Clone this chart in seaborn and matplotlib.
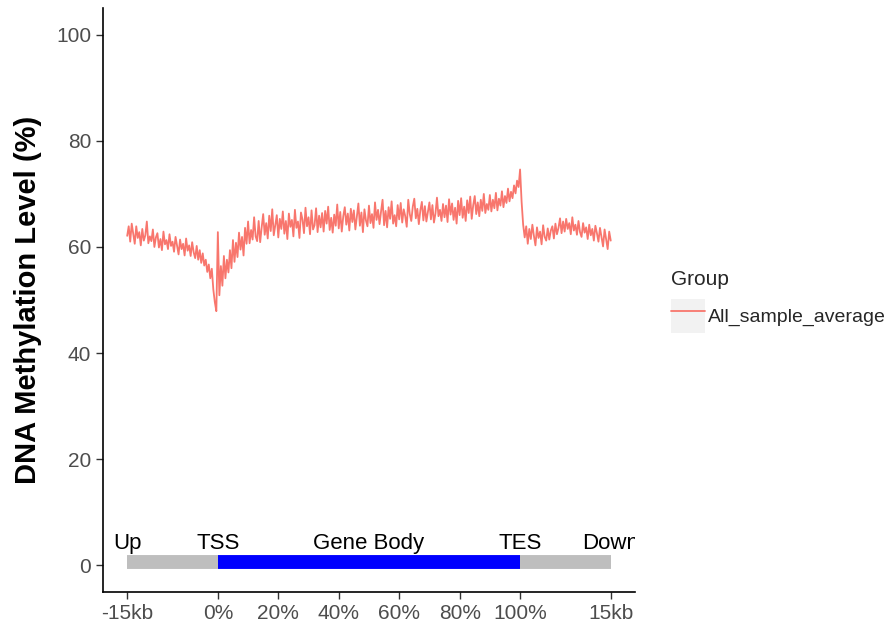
import numpy as np
import pandas as pd
import matplotlib
matplotlib.use("Agg")
import matplotlib.pyplot as plt
import seaborn as sns
from matplotlib.patches import Patch
from matplotlib.legend_handler import HandlerTuple

# methylation profile (upstream / gene body / downstream)
upstream = [62.1, 63.9, 61.0, 64.4, 62.5, 60.6, 63.9, 61.7, 62.8, 60.3,
            63.4, 61.2, 62.2, 64.8, 60.7, 62.0, 61.1, 63.3, 60.0, 61.8,
            62.6, 59.9, 61.5, 59.4, 62.9, 60.5, 61.3, 59.6, 62.4, 60.2,
            61.0, 59.1, 61.9, 60.2, 58.6, 61.4, 59.6, 60.6, 58.4, 61.6,
            59.3, 60.3, 58.3, 60.9, 59.0, 57.9, 60.2, 57.6, 59.4, 57.0,
            58.8, 56.5, 57.6, 55.3, 56.7, 54.1, 55.9, 52.0, 49.6, 47.9]
gene_body = [62.8, 50.9, 56.4, 52.7, 58.3, 54.1, 57.6, 55.2, 59.4, 56.0,
             61.3, 57.2, 60.8, 58.1, 62.7, 59.5, 61.9, 58.4, 63.6, 60.6,
             64.8, 60.7, 63.2, 61.4, 65.6, 62.0, 61.1, 64.9, 60.9, 63.7,
             66.2, 62.3, 64.5, 61.6, 65.9, 63.0, 67.1, 62.2, 64.1, 66.0,
             61.8, 65.3, 63.4, 66.7, 62.5, 64.9, 61.5, 66.3, 63.8, 65.1,
             62.0, 67.0, 63.6, 64.8, 61.7, 66.5, 65.2, 62.6, 67.4, 63.9,
             65.6, 62.4, 66.9, 63.3, 64.1, 67.3, 62.8, 65.9, 63.7, 66.4,
             62.9, 66.8, 64.4, 67.6, 63.2, 65.5, 62.7, 66.1, 64.0, 68.0,
             63.5, 66.6, 62.9, 65.8, 67.5, 64.2, 66.3, 63.1, 67.2, 64.7,
             66.9, 63.3, 65.7, 68.2, 64.0, 66.5, 62.8, 67.1, 65.0, 63.9,
             67.8, 64.5, 66.2, 63.6, 68.4, 65.1, 67.0, 64.3, 66.7, 68.9,
             64.1, 66.8, 63.7, 67.5, 65.3, 68.6, 64.4, 66.0, 63.9, 67.9,
             65.2, 68.3, 64.6, 67.1, 65.8, 63.8, 68.9, 66.2, 64.9, 67.6,
             69.1, 65.4, 67.2, 64.3, 66.9, 68.5, 65.0, 67.7, 64.8, 66.6,
             68.4, 65.2, 67.9, 64.6, 66.3, 69.3, 65.8, 67.0, 64.9, 68.1,
             65.6, 67.8, 64.7, 69.0, 66.1, 68.2, 65.1, 67.4, 64.4, 68.7,
             66.0, 69.2, 65.5, 67.6, 64.9, 68.8, 66.4, 69.5, 65.3, 67.9,
             69.6, 66.2, 68.4, 65.8, 68.9, 66.8, 70.0, 66.4, 68.1, 67.0,
             69.8, 66.7, 68.9, 67.3, 70.2, 66.9, 69.1, 67.8, 70.5, 67.5,
             69.6, 68.3, 71.0, 68.6, 70.4, 69.2, 71.6, 70.1, 72.5, 71.3]
downstream = [74.6, 68.5, 64.2, 61.8, 63.9, 60.6, 63.4, 61.5, 64.2, 62.1,
              60.3, 63.7, 61.7, 62.9, 60.5, 64.1, 61.9, 61.2, 63.5, 61.4,
              63.1, 63.9, 61.6, 64.4, 62.4, 63.6, 65.4, 62.6, 64.8, 62.9,
              65.3, 63.4, 64.5, 62.4, 65.6, 63.1, 64.2, 62.3, 64.9, 62.8,
              61.9, 64.5, 62.7, 63.7, 61.5, 64.2, 62.2, 63.4, 61.2, 64.0,
              62.6, 61.0, 63.6, 61.8, 60.1, 63.3, 61.4, 59.6, 62.9, 61.2]

group_name = "All_sample_average"

# gene model track
region_start = [-30, 0, 100]
region_end = [0, 100, 130]
region_color = ["#BEBEBE", "#0000FF", "#BEBEBE"]
track_labels = ["Up", "TSS", "Gene Body", "TES", "Down"]
track_label_pos = [-30, 0, 50, 100, 130]

tick_pos = [-30, 0, 20, 40, 60, 80, 100, 130]
tick_labels = ["-15kb", "0%", "20%", "40%", "60%", "80%", "100%", "15kb"]

# positions of each bin along the meta-gene
pos = np.concatenate([
    np.linspace(-30, 0, len(upstream), endpoint=False),
    np.linspace(0, 100, len(gene_body), endpoint=False),
    np.linspace(100, 130, len(downstream)),
])
df = pd.DataFrame({"pos": pos,
                   "value": upstream + gene_body + downstream,
                   "Group": group_name})

sns.set_style("white")
plt.rcParams["font.family"] = ["Liberation Sans", "DejaVu Sans"]

fig = plt.figure(figsize=(8.88, 6.31), dpi=100)
ax = fig.add_axes([0.116, 0.062, 0.599, 0.925])

sns.lineplot(data=df, x="pos", y="value", hue="Group",
             palette=["#F8766D"], linewidth=1.3, ax=ax)

for s, e, c in zip(region_start, region_end, region_color):
    ax.plot([s, e], [0.6, 0.6], color=c, linewidth=10, solid_capstyle="butt")
for lab, x in zip(track_labels, track_label_pos):
    ax.text(x, 2.1, lab, ha="center", va="bottom", fontsize=16,
            color="black", clip_on=True)

ax.set_xlim(-38, 138)
ax.set_ylim(-5, 105)
ax.set_xticks(tick_pos)
ax.set_xticklabels(tick_labels)
ax.set_yticks([0, 20, 40, 60, 80, 100])
ax.tick_params(axis="both", labelsize=15, labelcolor="#4D4D4D",
               color="#333333", length=5, width=1, direction="out",
               bottom=True, left=True)
ax.set_xlabel("")
ax.set_ylabel("DNA Methylation Level (%)", fontsize=21, fontweight="bold",
              color="black", labelpad=10)
sns.despine(ax=ax)
for side in ["left", "bottom"]:
    ax.spines[side].set_color("black")
    ax.spines[side].set_linewidth(1.2)

handles, labels = ax.get_legend_handles_labels()
ax.get_legend().remove()
key = (Patch(facecolor="#F2F2F2", edgecolor="none"), handles[0])
leg = fig.legend([key], labels, title="Group", loc="center left",
                 bbox_to_anchor=(0.743, 0.522), frameon=False,
                 fontsize=14, title_fontsize=15,
                 handler_map={tuple: HandlerTuple(ndivide=1)},
                 handlelength=1.75, handleheight=2.3, handletextpad=0.15,
                 borderpad=0.1)
leg._legend_box.align = "left"

fig.savefig("out.png", dpi=100)
